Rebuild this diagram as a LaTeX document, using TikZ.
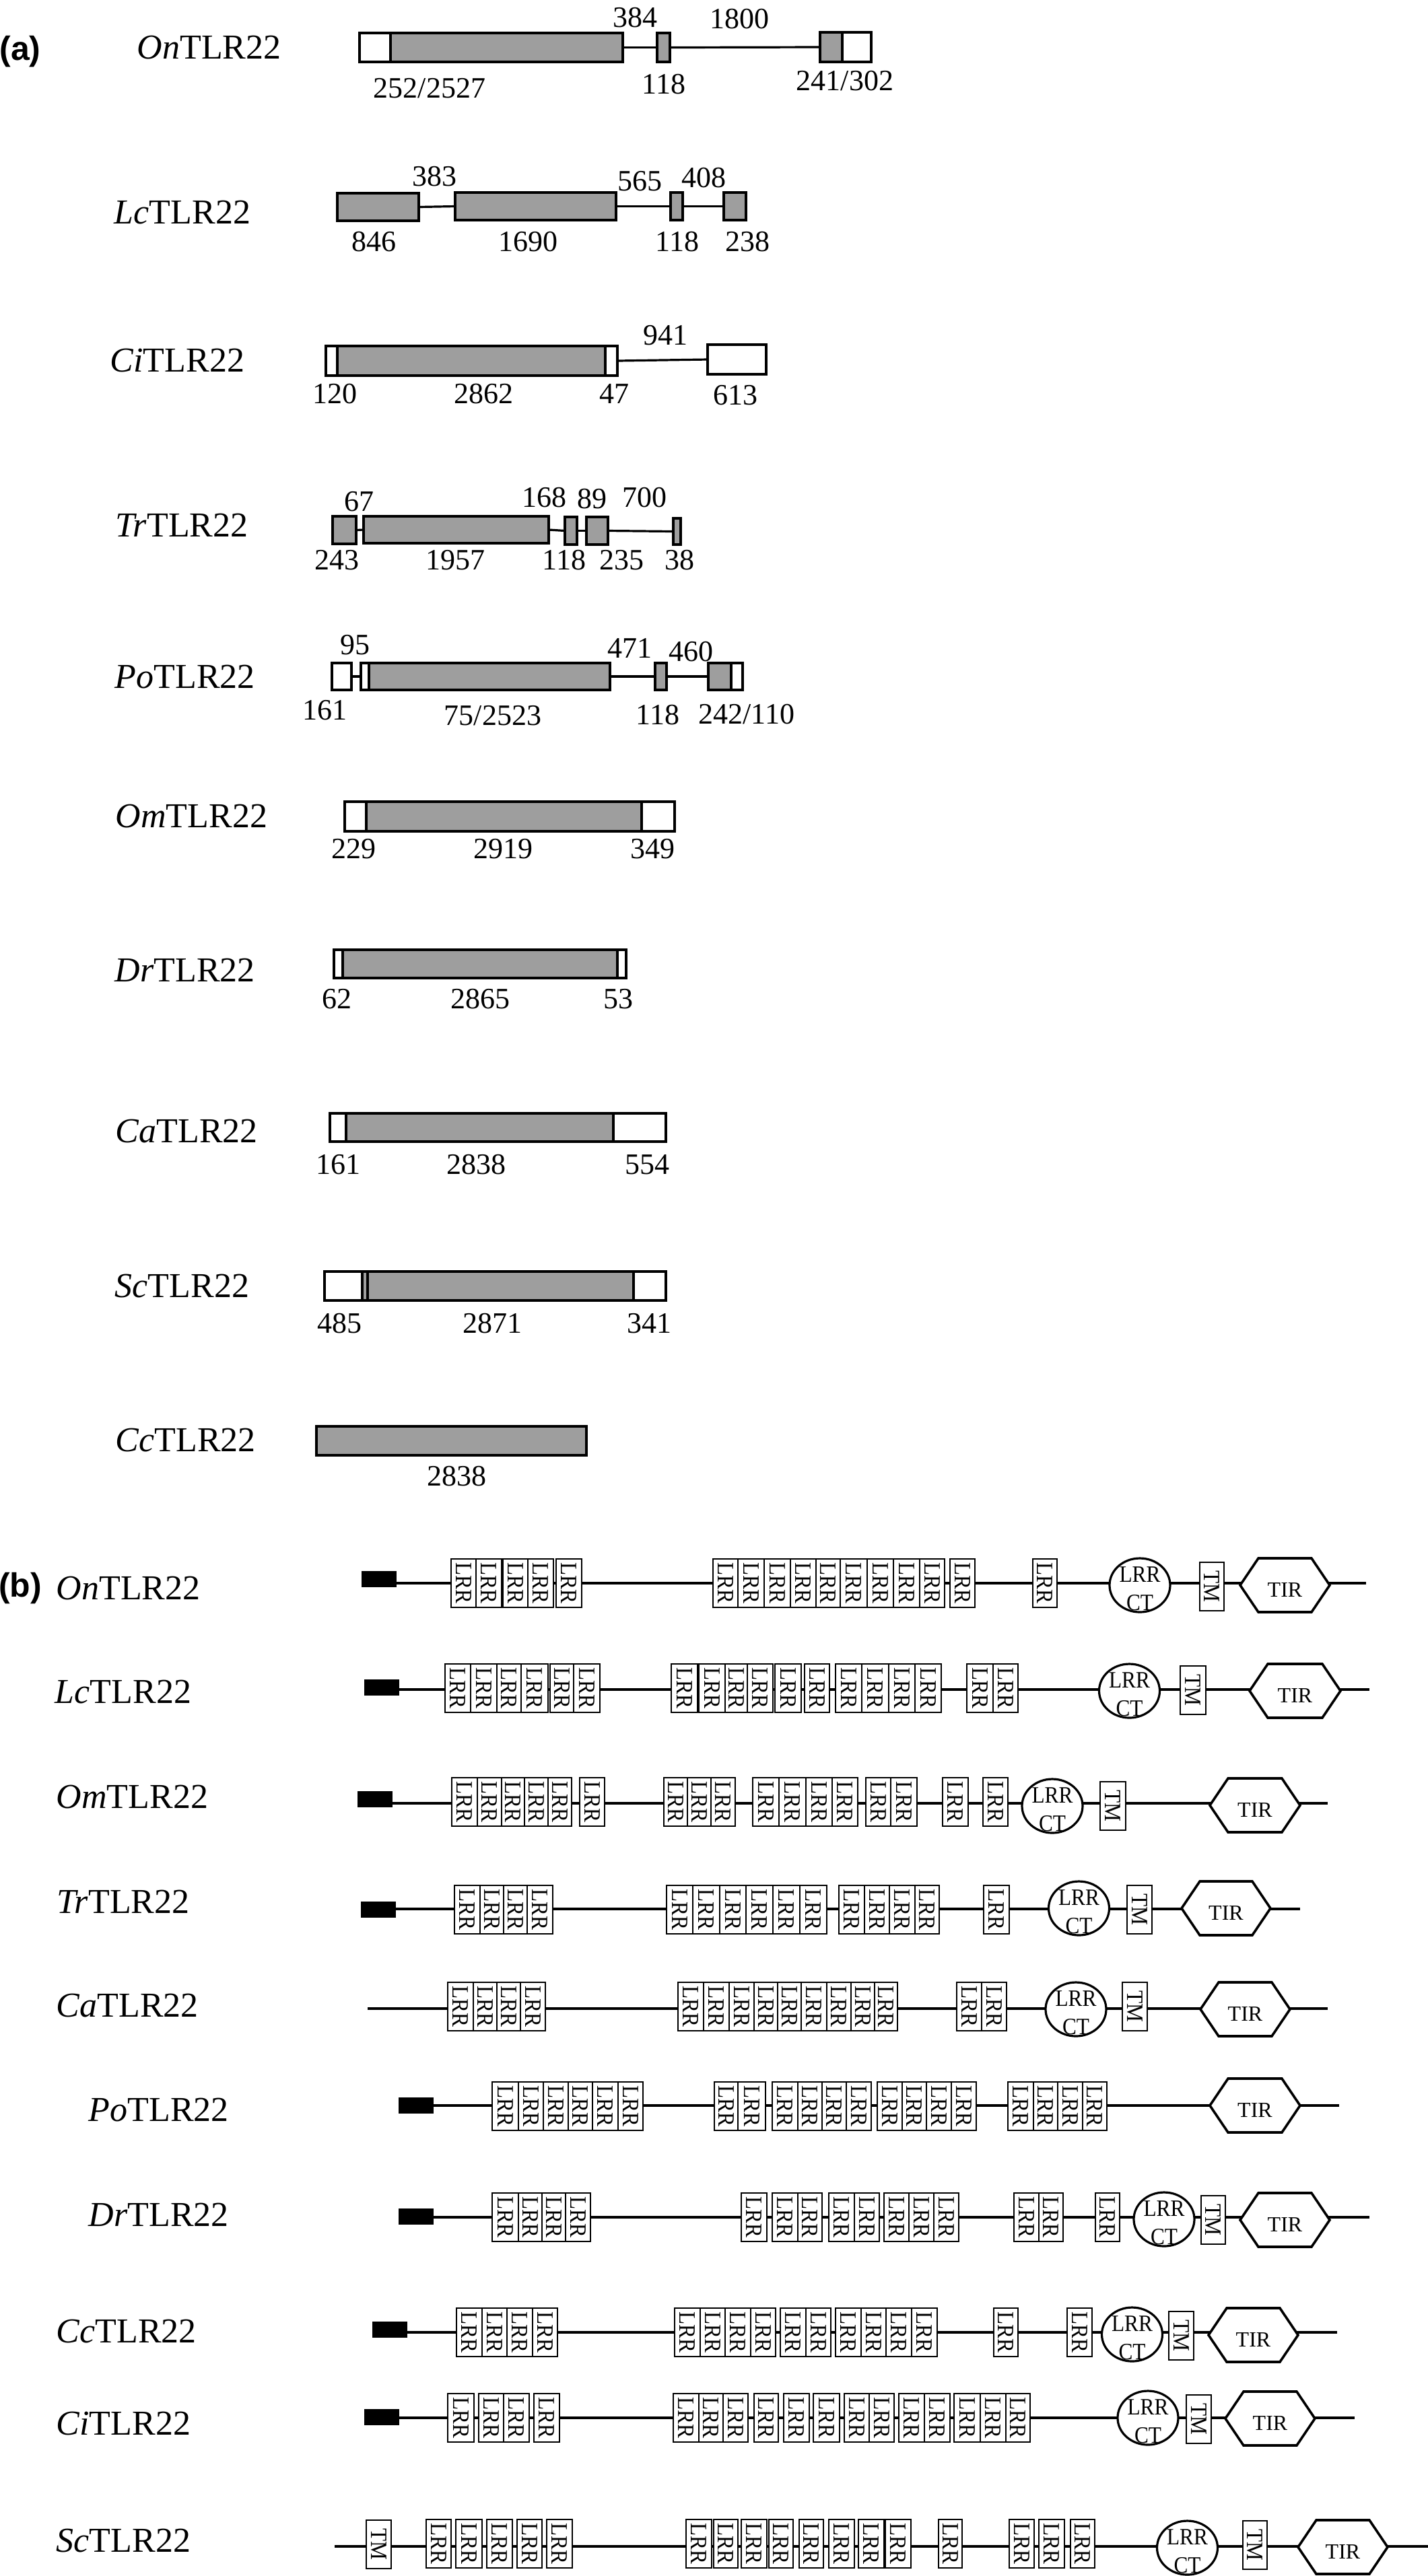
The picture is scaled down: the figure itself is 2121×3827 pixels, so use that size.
\documentclass[tikz,border=0pt]{standalone}
\usepackage{fontspec}
\usepackage{graphicx}
\setmainfont{Liberation Serif}
\newfontfamily\hvb{Liberation Sans}
\usetikzlibrary{shapes.geometric}
\definecolor{exongray}{RGB}{158,158,158}

\tikzset{
 seg/.style={draw, line width=0.8pt, inner sep=0pt, outer sep=0pt},
 wseg/.style={seg, fill=white},
 gseg/.style={seg, fill=exongray},
 intron/.style={line width=0.8pt},
 glabel/.style={anchor=west, inner sep=0pt, font=\fontsize{13}{13}\selectfont},
 num/.style={inner sep=0pt, font=\fontsize{11}{11}\selectfont},
 panel/.style={inner sep=0pt, font=\hvb\bfseries\fontsize{12.5}{12.5}\selectfont},
 lrr/.style={draw, fill=white, line width=0.7pt, inner sep=0pt, minimum height=18pt, font=\fontsize{8.7}{8.7}\selectfont},
 ctshape/.style={ellipse, draw, fill=white, line width=0.8pt, inner sep=0pt, minimum width=22.5pt, minimum height=20pt},
 ctext/.style={inner sep=0pt, font=\fontsize{8.7}{8.7}\selectfont},
 innertext/.style={inner sep=0pt, font=\fontsize{8}{8}\selectfont},
 backbone/.style={line width=0.8pt},
 sigpep/.style={fill=black, inner sep=0pt, minimum width=13pt, minimum height=6pt},
 hexa/.style={draw, fill=white, line width=0.9pt, line join=miter},
}

\newcommand\narrow[1]{\scalebox{0.9}[1]{#1}}
\newcommand\exon[6]{%
 \node[#6, minimum width={(#3-#2)*0.25pt}, minimum height={(#5-#4)*0.25pt}] (#1) at ({(#2+#3)/2},{(#4+#5)/2}) {};}
\newcommand\lrrs[3]{%
 \foreach \a/\b [count=\k] in {#3}{%
  \node[lrr, minimum width={(\b-\a)*0.25pt}] (#1\k) at ({(\a+\b)/2},#2) {\rotatebox{-90}{\narrow{LRR}}};}}
\newcommand\ctdom[3]{%
 \node[ctshape] (#1) at (#2,#3) {};
 \begin{scope}
  \clip (#1.center) ellipse [x radius=11.1pt, y radius=9.9pt];
  \node[ctext] (#1a) at ([yshift=4pt]#1.center) {\narrow{LRR}};
  \node[ctext] (#1b) at ([yshift=-6.5pt]#1.center) {\narrow{CT}};
 \end{scope}}
\newcommand\tmdom[4]{%
 \node[lrr, minimum width={(#3-#2)*0.25pt}] (#1) at ({(#2+#3)/2},#4) {\rotatebox{-90}{\narrow{TM}}};}
\newcommand\tirdom[4]{%
 \draw[hexa] (#2,#4) -- ({#2+27},{#4-40}) -- ({#3-27},{#4-40}) -- (#3,#4) -- ({#3-27},{#4+40}) -- ({#2+27},{#4+40}) -- cycle;
 \node[innertext] (#1) at ({(#2+#3)/2},{#4+7}) {TIR};}
\newcommand\bbrow[4]{% prefix, x start, x end, y
 \coordinate (#1S) at (#2,#4);
 \coordinate (#1E) at (#3,#4);
 \draw[backbone] (#1S) -- (#1E);}

\begin{document}
\begin{tikzpicture}[x=0.25pt, y=-0.25pt]
\useasboundingbox (0,0) rectangle (2121,3827);

%%%%%%%%%%%%%%%% (a)
\node[panel] (pa) at (30,77) {(a)};

% On
\node[glabel] (aOn) at (203,71) {\textit{On}TLR22};
\exon{aOn1}{534}{580}{49}{92}{wseg}
\exon{aOn2}{580}{925}{49}{92}{gseg}
\exon{aOn3}{976}{995}{49}{92}{gseg}
\exon{aOn4}{1218}{1251}{48}{92}{gseg}
\exon{aOn5}{1251}{1294}{48}{92}{wseg}
\draw[intron] (aOn2.east) -- (aOn3.west);
\draw[intron] (aOn3.east) -- (aOn4.west);
\node[num] (aOnn1) at (943,26) {384};
\node[num] (aOnn2) at (1098,28) {1800};
\node[num] (aOnn3) at (638,131) {252/2527};
\node[num] (aOnn4) at (986,125) {118};
\node[num] (aOnn5) at (1255,120) {241/302};

% Lc
\node[glabel] (aLc) at (169,316) {\textit{Lc}TLR22};
\exon{aLc1}{501}{622}{287}{328}{gseg}
\exon{aLc2}{676}{915}{286}{327}{gseg}
\exon{aLc3}{996}{1014}{286}{327}{gseg}
\exon{aLc4}{1075}{1108}{286}{327}{gseg}
\draw[intron] (aLc1.east) -- (aLc2.west);
\draw[intron] (aLc2.east) -- (aLc3.west);
\draw[intron] (aLc3.east) -- (aLc4.west);
\node[num] (aLcn1) at (645,262) {383};
\node[num] (aLcn2) at (950,269) {565};
\node[num] (aLcn3) at (1045,264) {408};
\node[num] (aLcn4) at (555,359) {846};
\node[num] (aLcn5) at (784,359) {1690};
\node[num] (aLcn6) at (1006,359) {118};
\node[num] (aLcn7) at (1110,359) {238};

% Ci
\node[glabel] (aCi) at (163,536) {\textit{Ci}TLR22};
\exon{aCi1}{484}{501}{514}{558}{wseg}
\exon{aCi2}{501}{899}{514}{558}{gseg}
\exon{aCi3}{899}{917}{514}{558}{wseg}
\exon{aCi4}{1051}{1138}{512}{556}{wseg}
\draw[intron] (aCi3.east) -- (aCi4.west);
\node[num] (aCin1) at (988,498) {941};
\node[num] (aCin2) at (497,585) {120};
\node[num] (aCin3) at (718,585) {2862};
\node[num] (aCin4) at (912,585) {47};
\node[num] (aCin5) at (1092,587) {613};

% Tr
\node[glabel] (aTr) at (171,780) {\textit{Tr}TLR22};
\exon{aTr1}{494}{529}{767}{808}{gseg}
\exon{aTr2}{540}{815}{767}{807}{gseg}
\exon{aTr3}{839}{857}{768}{809}{gseg}
\exon{aTr4}{871}{903}{768}{809}{gseg}
\exon{aTr5}{1000}{1011}{770}{809}{gseg}
\draw[intron] (aTr1.east) -- (aTr2.west);
\draw[intron] (aTr2.east) -- (aTr3.west);
\draw[intron] (aTr3.east) -- (aTr4.west);
\draw[intron] (aTr4.east) -- (aTr5.west);
\node[num] (aTrn1) at (533,745) {67};
\node[num] (aTrn2) at (808,739) {168};
\node[num] (aTrn3) at (879,741) {89};
\node[num] (aTrn4) at (957,739) {700};
\node[num] (aTrn5) at (500,832) {243};
\node[num] (aTrn6) at (676,832) {1957};
\node[num] (aTrn7) at (838,832) {118};
\node[num] (aTrn8) at (923,832) {235};
\node[num] (aTrn9) at (1009,832) {38};

% Po
\node[glabel] (aPo) at (170,1006) {\textit{Po}TLR22};
\exon{aPo1}{493}{522}{985}{1025}{wseg}
\exon{aPo2}{536}{548}{985}{1025}{wseg}
\exon{aPo3}{548}{906}{985}{1025}{gseg}
\exon{aPo4}{973}{990}{985}{1025}{gseg}
\exon{aPo5}{1052}{1086}{985}{1025}{gseg}
\exon{aPo6}{1086}{1103}{985}{1025}{wseg}
\draw[intron] (aPo1.east) -- (aPo2.west);
\draw[intron] (aPo3.east) -- (aPo4.west);
\draw[intron] (aPo4.east) -- (aPo5.west);
\node[num] (aPon1) at (527,958) {95};
\node[num] (aPon2) at (935,963) {471};
\node[num] (aPon3) at (1026,968) {460};
\node[num] (aPon4) at (482,1055) {161};
\node[num] (aPon5) at (732,1063) {75/2523};
\node[num] (aPon6) at (977,1062) {118};
\node[num] (aPon7) at (1109,1061) {242/110};

% Om
\node[glabel] (aOm) at (171,1213) {\textit{Om}TLR22};
\exon{aOm1}{512}{544}{1191}{1235}{wseg}
\exon{aOm2}{544}{953}{1191}{1235}{gseg}
\exon{aOm3}{953}{1002}{1191}{1235}{wseg}
\node[num] (aOmn1) at (525,1261) {229};
\node[num] (aOmn2) at (747,1261) {2919};
\node[num] (aOmn3) at (969,1261) {349};

% Dr
\node[glabel] (aDr) at (170,1441) {\textit{Dr}TLR22};
\exon{aDr1}{496}{509}{1411}{1453}{wseg}
\exon{aDr2}{509}{917}{1411}{1453}{gseg}
\exon{aDr3}{917}{930}{1411}{1453}{wseg}
\node[num] (aDrn1) at (500,1484) {62};
\node[num] (aDrn2) at (713,1484) {2865};
\node[num] (aDrn3) at (918,1484) {53};

% Ca
\node[glabel] (aCa) at (171,1681) {\textit{Ca}TLR22};
\exon{aCa1}{490}{514}{1654}{1696}{wseg}
\exon{aCa2}{514}{911}{1654}{1696}{gseg}
\exon{aCa3}{911}{989}{1654}{1696}{wseg}
\node[num] (aCan1) at (502,1730) {161};
\node[num] (aCan2) at (707,1730) {2838};
\node[num] (aCan3) at (961,1730) {554};

% Sc
\node[glabel] (aSc) at (170,1911) {\textit{Sc}TLR22};
\exon{aSc1}{482}{538}{1889}{1932}{wseg}
\exon{aSc2}{538}{546}{1889}{1932}{gseg}
\exon{aSc3}{546}{941}{1889}{1932}{gseg}
\exon{aSc4}{941}{989}{1889}{1932}{wseg}
\node[num] (aScn1) at (504,1966) {485};
\node[num] (aScn2) at (731,1966) {2871};
\node[num] (aScn3) at (964,1966) {341};

% Cc
\node[glabel] (aCc) at (171,2140) {\textit{Cc}TLR22};
\exon{aCc1}{470}{871}{2119}{2162}{gseg}
\node[num] (aCcn1) at (678,2193) {2838};

%%%%%%%%%%%%%%%% (b)
\node[panel] (pb) at (30,2360) {(b)};

% On
\node[glabel] (bOn) at (83,2360) {\textit{On}TLR22};
\bbrow{bOn}{563}{2029}{2352}
\node[sigpep] (bOnP) at (563,2346) {};
\lrrs{bOnL}{2352}{670/707,707/745,747/784,784/822,826/864,1059/1096,1096/1135,1135/1174,1174/1212,1212/1248,1248/1288,1288/1327,1327/1366,1366/1403,1411/1448,1534/1570}
\ctdom{bOnC}{1693}{2355}
\tmdom{bOnT}{1782}{1818}{2357}
\tirdom{bOnI}{1842}{1975}{2355}

% Lc
\node[glabel] (bLc) at (81,2514) {\textit{Lc}TLR22};
\bbrow{bLc}{567}{2034}{2510}
\node[sigpep] (bLcP) at (567,2507) {};
\lrrs{bLcL}{2508}{661/699,699/738,738/774,774/814,817/852,852/891,997/1036,1038/1077,1077/1110,1110/1148,1151/1190,1195/1232,1241/1280,1280/1320,1320/1359,1359/1398,1436/1475,1475/1512}
\ctdom{bLcC}{1677.5}{2512}
\tmdom{bLcT}{1753}{1791}{2511}
\tirdom{bLcI}{1856}{1991}{2512}

% Om
\node[glabel] (bOm) at (83,2670) {\textit{Om}TLR22};
\bbrow{bOm}{557}{1972}{2679}
\node[sigpep] (bOmP) at (557,2673) {};
\lrrs{bOmL}{2677}{671/709,709/745,745/779,779/814,814/849,861/898,986/1021,1021/1056,1056/1092,1118/1157,1157/1197,1197/1236,1236/1274,1286/1323,1323/1362,1400/1438,1460/1497}
\ctdom{bOmC}{1563}{2683}
\tmdom{bOmT}{1634}{1672}{2683}
\tirdom{bOmI}{1797}{1931}{2682}

% Tr
\node[glabel] (bTr) at (84,2825) {\textit{Tr}TLR22};
\bbrow{bTr}{562}{1931}{2836}
\node[sigpep] (bTrP) at (562,2837) {};
\lrrs{bTrL}{2837}{675/713,713/748,748/783,783/821,990/1029,1029/1069,1069/1108,1108/1148,1148/1188,1188/1228,1246/1284,1284/1321,1321/1359,1359/1395,1461/1499}
\ctdom{bTrC}{1602.5}{2835}
\tmdom{bTrT}{1674}{1711}{2837}
\tirdom{bTrI}{1755}{1887}{2835}

% Ca
\node[glabel] (bCa) at (83,2980) {\textit{Ca}TLR22};
\bbrow{bCa}{546}{1972}{2984}
\lrrs{bCaL}{2981}{665/703,703/738,738/773,773/810,1007/1045,1045/1083,1083/1120,1120/1155,1155/1190,1190/1228,1228/1264,1264/1299,1299/1333,1421/1458,1458/1495}
\ctdom{bCaC}{1598}{2985}
\tmdom{bCaT}{1667}{1704}{2981}
\tirdom{bCaI}{1783}{1916}{2985}

% Po
\node[glabel] (bPo) at (131,3134) {\textit{Po}TLR22};
\bbrow{bPo}{618}{1989}{3128}
\node[sigpep] (bPoP) at (618,3128) {};
\lrrs{bPoL}{3129}{731/770,770/807,807/844,844/880,880/918,918/955,1061/1096,1096/1137,1147/1185,1185/1221,1221/1257,1257/1294,1303/1340,1340/1376,1376/1413,1413/1450,1497/1535,1535/1571,1571/1608,1608/1644}
\tirdom{bPoI}{1797}{1931}{3128}

% Dr
\node[glabel] (bDr) at (131,3290) {\textit{Dr}TLR22};
\bbrow{bDr}{618}{2034}{3294}
\node[sigpep] (bDrP) at (618,3293) {};
\lrrs{bDrL}{3294}{731/770,770/805,805/840,840/877,1101/1139,1147/1185,1185/1221,1231/1269,1269/1306,1313/1350,1350/1387,1387/1424,1506/1543,1543/1579,1627/1663}
\ctdom{bDrC}{1729}{3297}
\tmdom{bDrT}{1784}{1820}{3298}
\tirdom{bDrI}{1842}{1975}{3298}

% Cc
\node[glabel] (bCc) at (83,3463) {\textit{Cc}TLR22};
\bbrow{bCc}{579}{1986}{3465}
\node[sigpep] (bCcP) at (579,3461) {};
\lrrs{bCcL}{3465}{678/716,716/753,753/791,791/828,1002/1040,1040/1077,1077/1115,1115/1152,1159/1197,1197/1234,1241/1279,1279/1316,1316/1354,1354/1392,1476/1512,1585/1622}
\ctdom{bCcC}{1681.5}{3468}
\tmdom{bCcT}{1736}{1773}{3470}
\tirdom{bCcI}{1795}{1928}{3469}

% Ci
\node[glabel] (bCi) at (83,3600) {\textit{Ci}TLR22};
\bbrow{bCi}{567}{2012}{3592}
\node[sigpep] (bCiP) at (567,3591) {};
\lrrs{bCiL}{3592}{665/704,711/748,748/786,793/831,1000/1038,1038/1074,1074/1111,1120/1156,1164/1202,1208/1247,1254/1291,1291/1328,1335/1373,1373/1411,1417/1456,1456/1494,1494/1530}
\ctdom{bCiC}{1705}{3592}
\tmdom{bCiT}{1762}{1799}{3594}
\tirdom{bCiI}{1820}{1953}{3593}

% Sc
\node[glabel] (bSc) at (83,3774) {\textit{Sc}TLR22};
\bbrow{bSc}{497}{2121}{3783}
\tmdom{bScT1}{544}{581}{3780}
\lrrs{bScL}{3779}{633/670,677/716,723/761,768/805,812/850,1019/1057,1060/1096,1101/1139,1142/1178,1187/1223,1231/1269,1275/1313,1315/1353,1394/1429,1499/1536,1543/1581,1590/1626}
\ctdom{bScC}{1763.5}{3785}
\tmdom{bScT2}{1846}{1882}{3781}
\tirdom{bScI}{1928}{2061}{3784}

\end{tikzpicture}
\end{document}
